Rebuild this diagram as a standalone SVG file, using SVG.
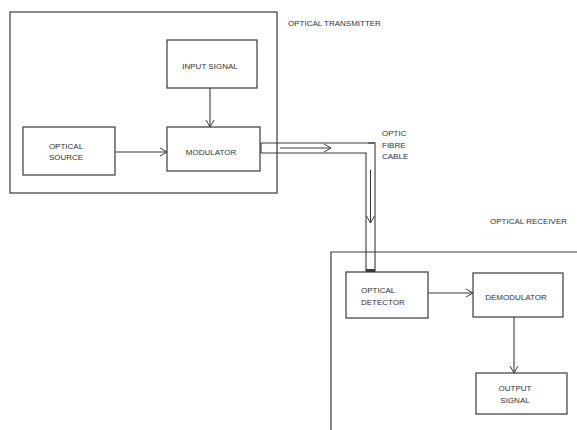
<svg xmlns="http://www.w3.org/2000/svg" width="577" height="430" viewBox="0 0 577 430">
<defs>
<style>
.b{fill:none;stroke:#3a3a3a;stroke-width:1.2}
.t{font-family:"Liberation Sans",Arial,sans-serif;font-size:8px;fill:#333}
.c{text-anchor:middle}
.l{fill:none;stroke:#3a3a3a;stroke-width:1.1}
</style>
<marker id="a" markerWidth="10" markerHeight="10" refX="8" refY="5" orient="auto" markerUnits="userSpaceOnUse">
<path d="M1,1 L8,5 L1,9" fill="none" stroke="#3a3a3a" stroke-width="1"/>
</marker>
</defs>
<rect width="577" height="430" fill="#fff"/>
<g id="transmitter">
<rect class="b" x="10" y="12" width="267" height="181"/>
<text class="t" x="288" y="26">OPTICAL TRANSMITTER</text>
</g>
<g id="receiver">
<path class="b" d="M331,432 V252 H580"/>
<text class="t" x="490" y="224">OPTICAL RECEIVER</text>
</g>
<g id="input-signal">
<rect class="b" x="167" y="40" width="90" height="48"/>
<text class="t c" x="210" y="69">INPUT SIGNAL</text>
</g>
<g id="optical-source">
<rect class="b" x="23" y="127" width="92" height="48"/>
<text class="t c" x="66" y="149">OPTICAL</text>
<text class="t c" x="66" y="160">SOURCE</text>
</g>
<g id="modulator">
<rect class="b" x="167" y="127" width="93" height="44"/>
<text class="t c" x="211" y="155">MODULATOR</text>
</g>
<g id="optical-detector">
<rect class="b" x="346" y="272" width="82" height="46"/>
<text class="t" x="361" y="293">OPTICAL</text>
<text class="t" x="361" y="305">DETECTOR</text>
</g>
<g id="demodulator">
<rect class="b" x="473" y="273" width="90" height="44"/>
<text class="t c" x="516" y="300">DEMODULATOR</text>
</g>
<g id="output-signal">
<rect class="b" x="476" y="373" width="91" height="41"/>
<text class="t c" x="515" y="391">OUTPUT</text>
<text class="t c" x="515" y="403">SIGNAL</text>
</g>
<g id="fibre-cable">
<path class="l" d="M261,143 H375 V272"/>
<path class="l" d="M261,153 H366 V272"/>
<path class="l" d="M261,143 V153"/>
<path class="l" d="M368,143 H375"/>
<rect x="366" y="269" width="9" height="3" fill="#3a3a3a"/>
<text class="t" x="382" y="136">OPTIC</text>
<text class="t" x="382" y="148">FIBRE</text>
<text class="t" x="382" y="159">CABLE</text>
</g>
<g id="connectors">
<line class="l" x1="210" y1="88" x2="210" y2="127" marker-end="url(#a)"/>
<line class="l" x1="115" y1="152" x2="167" y2="152" marker-end="url(#a)"/>
<line class="l" x1="280" y1="148" x2="331" y2="148" marker-end="url(#a)"/>
<line class="l" x1="370.5" y1="170" x2="370.5" y2="223" marker-end="url(#a)"/>
<line class="l" x1="428" y1="293" x2="473" y2="293" marker-end="url(#a)"/>
<line class="l" x1="514" y1="317" x2="514" y2="373" marker-end="url(#a)"/>
</g>
</svg>
